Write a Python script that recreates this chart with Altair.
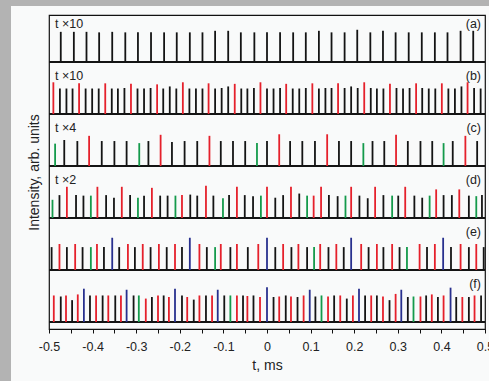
import altair as alt
import pandas as pd

# ---- spike trains: arrival time (ms), peak height (arb. units), colour code ----
# colour codes: k = black, r = red, g = green, b = blue
t_a = [-0.473, -0.443, -0.414, -0.385, -0.355, -0.325, -0.296, -0.266, -0.236, -0.207,
       -0.177, -0.148, -0.119, -0.089, -0.060, -0.029, 0.000, 0.030, 0.060, 0.089,
       0.119, 0.148, 0.178, 0.207, 0.237, 0.266, 0.295, 0.325, 0.355, 0.385,
       0.414, 0.444, 0.473]
h_a = [0.58, 0.58, 0.58, 0.57, 0.58, 0.57, 0.57, 0.57, 0.57, 0.57, 0.57, 0.57, 0.60, 0.60,
       0.57, 0.57, 0.57, 0.57, 0.57, 0.57, 0.60, 0.57, 0.57, 0.62, 0.57, 0.60, 0.57, 0.57,
       0.57, 0.57, 0.57, 0.60, 0.60]
c_a = "kkkkkkkkkkkkkkkkkkkkkkkkkkkkkkkkk"

t_b = [-0.490, -0.475, -0.460, -0.446, -0.431, -0.416, -0.401, -0.386, -0.371, -0.356,
       -0.342, -0.327, -0.312, -0.297, -0.282, -0.267, -0.252, -0.238, -0.223, -0.208,
       -0.193, -0.178, -0.163, -0.148, -0.134, -0.119, -0.104, -0.089, -0.074, -0.059,
       -0.045, -0.030, -0.015, 0.000, 0.015, 0.030, 0.044, 0.059, 0.074, 0.089,
       0.104, 0.119, 0.134, 0.148, 0.163, 0.178, 0.193, 0.208, 0.223, 0.238,
       0.252, 0.267, 0.282, 0.297, 0.312, 0.327, 0.342, 0.356, 0.371, 0.386,
       0.401, 0.416, 0.431, 0.446, 0.460, 0.475, 0.490]
h_b = [0.61, 0.49, 0.49, 0.49, 0.59, 0.49, 0.49, 0.49, 0.59, 0.49, 0.49, 0.50, 0.58, 0.49,
       0.49, 0.50, 0.57, 0.49, 0.53, 0.49, 0.61, 0.49, 0.49, 0.49, 0.59, 0.49, 0.50, 0.53,
       0.58, 0.49, 0.49, 0.50, 0.61, 0.49, 0.49, 0.50, 0.58, 0.49, 0.49, 0.50, 0.59, 0.49,
       0.50, 0.50, 0.59, 0.50, 0.53, 0.50, 0.61, 0.50, 0.49, 0.49, 0.58, 0.50, 0.49, 0.50,
       0.59, 0.50, 0.49, 0.49, 0.59, 0.49, 0.49, 0.53, 0.61, 0.50, 0.49]
c_b = "rkkkrkkkrkkkrkkkrkkkrkkkrkkkrkkkrkkkrkkkrkkkrkkkrkkkrkkkrkkkrkkkrkk"

t_c = [-0.486, -0.465, -0.435, -0.408, -0.379, -0.350, -0.322, -0.293, -0.272, -0.244,
       -0.218, -0.189, -0.160, -0.132, -0.106, -0.078, -0.050, -0.023, 0.000, 0.028,
       0.053, 0.081, 0.110, 0.138, 0.165, 0.193, 0.221, 0.242, 0.269, 0.296,
       0.323, 0.352, 0.379, 0.405, 0.426, 0.455, 0.482]
h_c = [0.43, 0.50, 0.48, 0.58, 0.48, 0.48, 0.48, 0.44, 0.48, 0.60, 0.46, 0.48, 0.48, 0.58,
       0.48, 0.48, 0.48, 0.44, 0.48, 0.61, 0.48, 0.48, 0.48, 0.61, 0.48, 0.48, 0.44, 0.48,
       0.48, 0.60, 0.48, 0.48, 0.48, 0.44, 0.48, 0.58, 0.48]
c_c = "gkkrkkkgkrkkkrkkkgkrkkkrkkgkkrkkkgkrk"

t_d = [-0.492, -0.476, -0.459, -0.438, -0.421, -0.404, -0.389, -0.369, -0.351, -0.333,
       -0.314, -0.296, -0.282, -0.264, -0.245, -0.228, -0.210, -0.195, -0.176, -0.160,
       -0.140, -0.123, -0.101, -0.087, -0.069, -0.051, -0.032, -0.014, 0.000, 0.019,
       0.037, 0.055, 0.074, 0.092, 0.107, 0.124, 0.142, 0.162, 0.180, 0.193,
       0.212, 0.231, 0.248, 0.267, 0.287, 0.301, 0.317, 0.338, 0.356, 0.373,
       0.388, 0.405, 0.424, 0.441, 0.463, 0.480, 0.493]
h_d = [0.35, 0.44, 0.60, 0.44, 0.43, 0.43, 0.60, 0.44, 0.39, 0.60, 0.44, 0.39, 0.43, 0.58,
       0.43, 0.43, 0.43, 0.44, 0.45, 0.43, 0.62, 0.43, 0.38, 0.44, 0.60, 0.44, 0.42, 0.43,
       0.60, 0.39, 0.44, 0.60, 0.47, 0.43, 0.43, 0.60, 0.44, 0.42, 0.43, 0.60, 0.43, 0.38,
       0.60, 0.44, 0.43, 0.43, 0.60, 0.43, 0.39, 0.43, 0.55, 0.44, 0.44, 0.55, 0.43, 0.42,
       0.44]
c_d = "gkrkkgrkkrkgkrkkgrkkrkgkrkkgrkkrkgrrkkgrkkrkgkrkkgrkkrkgk"

t_e = [-0.494, -0.476, -0.459, -0.440, -0.423, -0.404, -0.390, -0.374, -0.355, -0.339,
       -0.319, -0.303, -0.285, -0.267, -0.248, -0.230, -0.211, -0.195, -0.177, -0.155,
       -0.138, -0.119, -0.106, -0.084, -0.069, -0.044, -0.020, 0.000, 0.019, 0.037,
       0.056, 0.072, 0.092, 0.108, 0.122, 0.141, 0.159, 0.176, 0.193, 0.216,
       0.233, 0.252, 0.267, 0.287, 0.304, 0.321, 0.350, 0.367, 0.385, 0.404,
       0.422, 0.444, 0.463, 0.480, 0.497]
h_e = [0.44, 0.50, 0.44, 0.50, 0.44, 0.44, 0.50, 0.44, 0.62, 0.44, 0.50, 0.44, 0.50, 0.44,
       0.50, 0.44, 0.50, 0.44, 0.62, 0.50, 0.44, 0.44, 0.50, 0.44, 0.50, 0.44, 0.50, 0.62,
       0.44, 0.50, 0.44, 0.50, 0.44, 0.44, 0.50, 0.44, 0.50, 0.44, 0.62, 0.50, 0.44, 0.50,
       0.44, 0.50, 0.44, 0.44, 0.50, 0.44, 0.50, 0.62, 0.44, 0.50, 0.44, 0.50, 0.44]
c_e = "krkrkgrkbkrkrkrkrkbrkgrkrkrbkrkrkgrkrkbrkrkrkgrkrbkrkrk"

t_f = [-0.489, -0.473, -0.461, -0.447, -0.434, -0.420, -0.406, -0.392, -0.377, -0.364,
       -0.348, -0.335, -0.322, -0.306, -0.294, -0.278, -0.264, -0.250, -0.237, -0.225,
       -0.211, -0.195, -0.183, -0.168, -0.155, -0.140, -0.126, -0.113, -0.098, -0.084,
       -0.069, -0.055, -0.045, -0.031, -0.016, 0.000, 0.015, 0.028, 0.043, 0.055,
       0.070, 0.084, 0.098, 0.111, 0.125, 0.140, 0.154, 0.168, 0.183, 0.197,
       0.211, 0.225, 0.239, 0.252, 0.266, 0.281, 0.295, 0.308, 0.323, 0.336,
       0.352, 0.365, 0.378, 0.392, 0.405, 0.421, 0.434, 0.448, 0.463, 0.476, 0.491]
h_f = [0.51, 0.49, 0.51, 0.42, 0.53, 0.64, 0.51, 0.51, 0.51, 0.51, 0.51, 0.51, 0.62, 0.51,
       0.51, 0.45, 0.48, 0.51, 0.51, 0.48, 0.64, 0.51, 0.48, 0.43, 0.51, 0.51, 0.51, 0.62,
       0.51, 0.51, 0.51, 0.51, 0.50, 0.51, 0.48, 0.67, 0.48, 0.49, 0.51, 0.49, 0.48, 0.51,
       0.62, 0.49, 0.51, 0.49, 0.51, 0.51, 0.45, 0.51, 0.64, 0.51, 0.51, 0.51, 0.49, 0.42,
       0.54, 0.62, 0.48, 0.49, 0.49, 0.51, 0.53, 0.48, 0.51, 0.66, 0.48, 0.48, 0.48, 0.51,
       0.51]
c_f = "rkrkrbkrkrkrbkgrkrkrbkrkrkrbkgrkrkrbkrkrkrbkgrkrkrbkrkrkrbkgrkrkrbkrkrk"

# ---- panel annotations ----
panel_tags = ["(a)", "(b)", "(c)", "(d)", "(e)", "(f)"]
panel_scale = ["t ×10", "t ×10", "t ×4", "t ×2", "", ""]
panel_level = [5, 4, 3, 2, 1, 0]          # vertical stacking level of each trace

tick_values = [-0.5, -0.45, -0.4, -0.35, -0.3, -0.25, -0.2, -0.15, -0.1, -0.05, 0.0,
               0.05, 0.1, 0.15, 0.2, 0.25, 0.3, 0.35, 0.4, 0.45, 0.5]

palette = {"k": "#141414", "r": "#e5202b", "g": "#149a4b", "b": "#28308e"}

traces = [(t_a, h_a, c_a), (t_b, h_b, c_b), (t_c, h_c, c_c),
          (t_d, h_d, c_d), (t_e, h_e, c_e), (t_f, h_f, c_f)]

rows = []
for level, (ts, hs, cs) in zip(panel_level, traces):
    for t, h, c in zip(ts, hs, cs, strict=True):
        rows.append({"t": t, "base": level, "top": level + h, "col": palette[c]})
spikes = pd.DataFrame(rows)

panels = pd.DataFrame({
    "tag": panel_tags,
    "scale": panel_scale,
    "base": panel_level,
    "label_y": [lv + 0.74 for lv in panel_level],
})

W, H = 436, 314
x_scale = alt.Scale(domain=[-0.5, 0.5], nice=False, zero=False)
y_scale = alt.Scale(domain=[-0.135, 5.904], nice=False, zero=False)

label_expr = ("abs(round(datum.value * 20)) % 2 == 1 ? '' : "
              "(datum.value < -1e-9 ? '-' : '') + format(abs(datum.value), '.1~f')")

x_axis = alt.Axis(values=tick_values, labelExpr=label_expr, title="t, ms",
                  tickSize=4, tickColor="#111", domainColor="#111", grid=False,
                  labelFlush=False, labelFontSize=12.5, labelColor="#222",
                  titleFontSize=14, titleColor="#222", titleFontWeight="normal",
                  labelPadding=7, titlePadding=6, zindex=1)
y_axis = alt.Axis(title="Intensity, arb. units", labels=False, ticks=False,
                  domain=False, grid=False, titleFontSize=14, titleColor="#222",
                  titleFontWeight="normal", titlePadding=8, zindex=1)

dummy = pd.DataFrame({"k": [0]})

# grey margin strips along the top and left edges of the figure
strip_left = alt.Chart(dummy).mark_rect(color="#b3b3b3", clip=False).encode(
    x=alt.value(-49), x2=alt.value(-38), y=alt.value(-15), y2=alt.value(H + 52))
strip_top = alt.Chart(dummy).mark_rect(color="#b3b3b3", clip=False).encode(
    x=alt.value(-49), x2=alt.value(W + 4), y=alt.value(-15), y2=alt.value(-9))

spike_layer = alt.Chart(spikes).mark_rule(strokeWidth=1.8).encode(
    x=alt.X("t:Q", scale=x_scale, axis=x_axis),
    y=alt.Y("base:Q", scale=y_scale, axis=y_axis),
    y2="top:Q",
    color=alt.Color("col:N", scale=None),
)

baseline_layer = alt.Chart(panels).mark_rule(strokeWidth=2.2, color="#141414").encode(
    x=alt.value(0), x2=alt.value(W),
    y=alt.Y("base:Q", scale=y_scale),
)

scale_text = alt.Chart(panels).mark_text(
    align="left", baseline="middle", fontSize=12.5, color="#222", font="Liberation Sans"
).encode(x=alt.value(6), y=alt.Y("label_y:Q", scale=y_scale), text="scale:N")

tag_text = alt.Chart(panels).mark_text(
    align="right", baseline="middle", fontSize=12.5, color="#222", font="Liberation Sans"
).encode(x=alt.value(W - 4), y=alt.Y("label_y:Q", scale=y_scale), text="tag:N")

chart = alt.layer(
    strip_left, strip_top, baseline_layer, spike_layer, scale_text, tag_text
).properties(
    width=W, height=H,
    autosize=alt.AutoSizeParams(type="none"),
    padding={"left": 49, "top": 15, "right": 4, "bottom": 52},
    background="#f9fafa",
).configure_view(
    stroke="#111", strokeWidth=1.2
).configure_axis(
    labelFont="Liberation Sans", titleFont="Liberation Sans"
)

chart.save("out.html", embed_options={"renderer": "svg", "actions": False})
